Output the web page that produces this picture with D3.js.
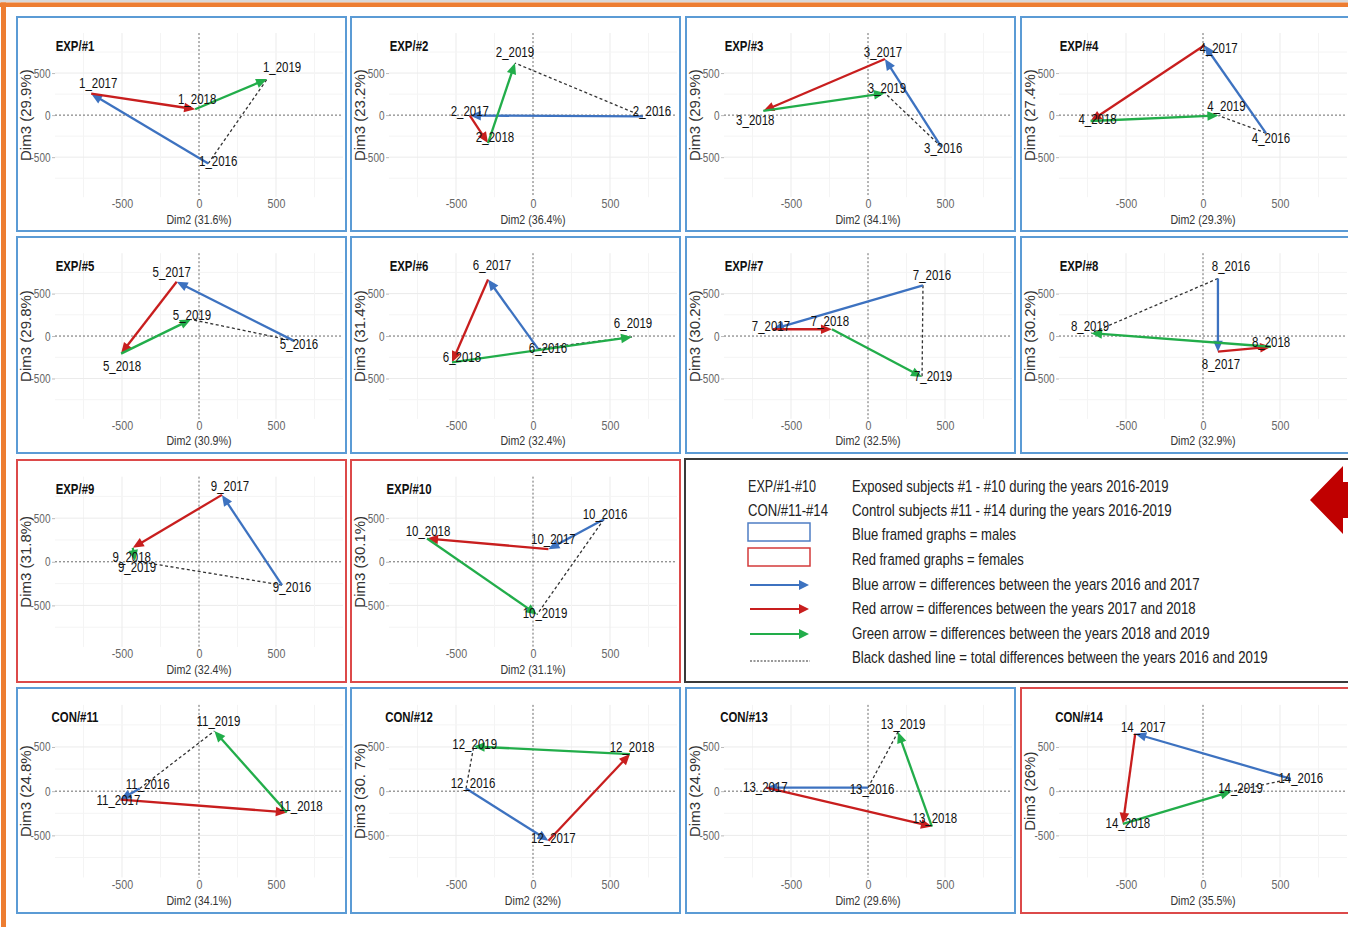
<!DOCTYPE html>
<html><head><meta charset="utf-8">
<script src="https://cdn.jsdelivr.net/npm/d3@7/dist/d3.min.js"></script>
<style>
html,body{margin:0;padding:0;background:#fff;overflow:hidden}
svg{display:block}
</style></head>
<body>
<script>
// ---------------- DATA ----------------
const subjects = ["EXP/#1","EXP/#2","EXP/#3","EXP/#4","EXP/#5","EXP/#6","EXP/#7","EXP/#8","EXP/#9","EXP/#10","CON/#11","CON/#12","CON/#13","CON/#14"];
const subjectNums = ["1","2","3","4","5","6","7","8","9","10","11","12","13","14"];
const sexes = ["m","m","m","m","m","m","m","m","f","f","m","m","m","f"];
const years = ["2016","2017","2018","2019"];
const dim2Pct = ["31.6%","36.4%","34.1%","29.3%","30.9%","32.4%","32.5%","32.9%","32.4%","31.1%","34.1%","32%","29.6%","35.5%"];
const dim3Pct = ["29.9%","23.2%","29.9%","27.4%","29.8%","31.4%","30.2%","30.2%","31.8%","30.1%","24.8%","30. 7%","24.9%","26%"];
// Dim2 coordinate per subject for 2016, 2017, 2018, 2019
const dim2Values = [
  [60,-700,-25,442],
  [714,-410,-292,-117],
  [475,110,-680,110],
  [409,10,-730,100],
  [617,-145,-506,-52],
  [32,-292,-526,643],
  [357,-617,-234,351],
  [97,97,442,-727],
  [539,149,-430,-415],
  [461,100,-688,26],
  [-385,-510,570,100],
  [-435,100,630,-385],
  [0,-660,415,195],
  [570,-440,-520,185]
];
// Dim3 coordinate per subject for 2016, 2017, 2018, 2019
const dim3Values = [
  [-575,255,70,429],
  [-15,-5,-333,619],
  [-375,667,50,262],
  [-214,830,-70,-5],
  [-57,640,-207,195],
  [-149,667,-310,-11],
  [598,80,80,-483],
  [678,-184,-126,34],
  [-267,767,160,10],
  [488,145,267,-605],
  [30,-95,-240,680],
  [30,-560,420,505],
  [40,40,-400,670],
  [140,650,-370,-5]
];
const xTicks = [-500,0,500];
const yTicks = [-500,0,500];
const gridValues = [-750,-500,-250,250,500,750];
const legendKeys = ["EXP/#1-#10","CON/#11-#14"];
const legendTexts = [
  "Exposed subjects #1 - #10 during the years 2016-2019",
  "Control subjects #11 - #14 during the years 2016-2019",
  "Blue framed graphs = males",
  "Red framed graphs = females",
  "Blue arrow = differences between the years 2016 and 2017",
  "Red arrow = differences between the years 2017 and 2018",
  "Green arrow = differences between the years 2018 and 2019",
  "Black dashed line = total differences between the years 2016 and 2019"
];

// ---------------- LAYOUT / STYLE ----------------
// label nudges in pixels (dx, dy of label centre relative to point), per subject, per year
const labelNudge = [
  [[10,-3],[7,-11],[2,-10],[15,-12]],
  [[9,-5],[0,-5],[7,-6],[0,-11]],
  [[2,1],[-2,-7],[-8,9],[2,-5]],
  [[5,5],[14,3],[7,-2],[8,-10]],
  [[5,3],[-5,-10],[1,12],[1,-5]],
  [[10,-1],[4,-14],[10,-5],[1,-14]],
  [[9,-10],[-2,-3],[-2,-8],[11,-1]],
  [[13,-13],[3,12],[0,-5],[-1,-7]],
  [[10,2],[8,-9],[-1,9],[2,6]],
  [[1,-5],[5,-10],[1,-8],[8,-2]],
  [[8,-5],[-2,0],[14,-6],[4,-10]],
  [[7,-6],[5,-3],[2,-7],[1,-3]],
  [[4,1],[-1,-1],[3,-9],[5,-8]],
  [[10,-1],[8,-7],[5,-1],[9,-4]]
];
const gridPos = [[0,0],[0,1],[0,2],[0,3],[1,0],[1,1],[1,2],[1,3],[2,0],[2,1],[3,0],[3,1],[3,2],[3,3]];
const colX = [17,351,686,1021];
const rowY = [17,237,460,688];
const rowH = [214,216,222,225];
const panelW = 329;
const REG = "'Liberation Sans',Arial,sans-serif";
const C_BLUE = "#3d72c0", C_RED = "#c81e1e", C_GREEN = "#22ad4a";
const FRAME_BLUE = "#5b9bd5", FRAME_RED = "#dc4a4a";
const arrowColors = [C_BLUE, C_RED, C_GREEN];

const W = 1348, H = 927;
const svg = d3.select("body").append("svg").attr("width",W).attr("height",H);

svg.append("rect").attr("width",W).attr("height",H).attr("fill","#fff");
svg.append("rect").attr("x",0).attr("y",0).attr("width",W).attr("height",2.5).attr("fill","#d9d9d9");
svg.append("rect").attr("x",0).attr("y",2.5).attr("width",W).attr("height",4.5).attr("fill","#ed7d31");
svg.append("rect").attr("x",1).attr("y",2.5).attr("width",5).attr("height",H).attr("fill","#ed7d31");

function drawArrow(g, x1, y1, x2, y2, color){
  const dx = x2-x1, dy = y2-y1, len = Math.hypot(dx,dy);
  if (len < 0.5) return;
  const ux = dx/len, uy = dy/len;
  const hl = Math.min(11, len*0.9), hw = 4.8;
  const bx = x2-ux*hl, by = y2-uy*hl;
  g.append("line").attr("x1",x1).attr("y1",y1).attr("x2",bx+ux*1).attr("y2",by+uy*1)
    .attr("stroke",color).attr("stroke-width",2.3).attr("stroke-linecap","butt");
  g.append("path").attr("d",`M${x2},${y2}L${bx-uy*hw},${by+ux*hw}L${bx+uy*hw},${by-ux*hw}Z`).attr("fill",color);
}

subjects.forEach((name, i) => {
  const [r,c] = gridPos[i];
  const h = rowH[r];
  const g = svg.append("g").attr("transform",`translate(${colX[c]},${rowY[r]})`);
  const top = 0.075*h, bot = 0.842*h;
  const x = d3.scaleLinear().domain([-935,935]).range([38,326]);
  const y = d3.scaleLinear().domain([-976,976]).range([bot, top]);

  gridValues.forEach(v => {
    const major = Math.abs(v) === 500;
    g.append("line").attr("x1",x(v)).attr("x2",x(v)).attr("y1",top).attr("y2",bot)
      .attr("stroke", major ? "#ebebeb" : "#f4f4f4").attr("stroke-width",1);
    g.append("line").attr("x1",x.range()[0]).attr("x2",x.range()[1]).attr("y1",y(v)).attr("y2",y(v))
      .attr("stroke", major ? "#ebebeb" : "#f4f4f4").attr("stroke-width",1);
  });
  g.append("line").attr("x1",x(0)).attr("x2",x(0)).attr("y1",top).attr("y2",bot)
    .attr("stroke","#6a6a6a").attr("stroke-width",1).attr("stroke-dasharray","2,2");
  g.append("line").attr("x1",x.range()[0]).attr("x2",x.range()[1]).attr("y1",y(0)).attr("y2",y(0))
    .attr("stroke","#6a6a6a").attr("stroke-width",1).attr("stroke-dasharray","2,2");

  const ya = g.append("g").attr("transform",`translate(${x.range()[0]},0)`)
    .call(d3.axisLeft(y).tickValues(yTicks).tickSize(3).tickPadding(1.5).tickFormat(d=>String(d)));
  ya.select(".domain").remove();
  ya.selectAll("line").attr("stroke","#bbb");
  ya.selectAll("text").attr("fill","#666").attr("class","narrow").attr("data-f","0.8").style("font-family",REG).style("font-size","12.5px");
  const xa = g.append("g").attr("transform",`translate(0,${bot})`)
    .call(d3.axisBottom(x).tickValues(xTicks).tickSize(0).tickPadding(2).tickFormat(d=>String(d)));
  xa.select(".domain").remove();
  xa.selectAll("text").attr("fill","#666").attr("class","narrow").attr("data-f","0.82").style("font-family",REG).style("font-size","13px");

  g.append("text").attr("class","narrow").attr("data-f","0.82").attr("x",(x.range()[0]+x.range()[1])/2).attr("y",0.965*h)
    .attr("text-anchor","middle").attr("fill","#333").style("font-family",REG).style("font-size","13px")
    .text(`Dim2 (${dim2Pct[i]})`);
  g.append("text").attr("transform",`translate(9,${(top+bot)/2}) rotate(-90)`)
    .attr("text-anchor","middle").attr("dy","0.36em").attr("fill","#333")
    .style("font-family",REG).style("font-size","15px")
    .text(`Dim3 (${dim3Pct[i]})`);

  g.append("text").attr("class","narrow").attr("data-f","0.76").attr("x",58).attr("y",33.5).attr("text-anchor","middle").attr("fill","#111")
    .style("font-family",REG).style("font-size","15px").style("font-weight","bold").text(name);

  const px = dim2Values[i].map(v => x(v));
  const py = dim3Values[i].map(v => y(v));
  g.append("line").attr("x1",px[0]).attr("y1",py[0]).attr("x2",px[3]).attr("y2",py[3])
    .attr("stroke","#333").attr("stroke-width",1.3).attr("stroke-dasharray","3,2.5");
  for (let k=0;k<3;k++) drawArrow(g, px[k], py[k], px[k+1], py[k+1], arrowColors[k]);
  years.forEach((yr,k) => {
    g.append("text").attr("class","narrow").attr("data-f","0.82").attr("x",px[k]+labelNudge[i][k][0]).attr("y",py[k]+labelNudge[i][k][1])
      .attr("dy","0.36em").attr("text-anchor","middle").attr("fill","#111")
      .style("font-family",REG).style("font-size","14px")
      .text(`${subjectNums[i]}_${yr}`);
  });

  g.append("rect").attr("x",0).attr("y",0).attr("width",panelW).attr("height",h)
    .attr("fill","none").attr("stroke", sexes[i]==="f" ? FRAME_RED : FRAME_BLUE).attr("stroke-width",2);
});

// narrow-font emulation: horizontally condense the regular face
svg.selectAll("text.narrow").each(function(){
  const w = this.getComputedTextLength();
  const f = +this.getAttribute("data-f");
  d3.select(this).attr("textLength", (w*f).toFixed(2)).attr("lengthAdjust","spacingAndGlyphs");
});

// ---------------- LEGEND ----------------
const lg = svg.append("g");
lg.append("rect").attr("x",685).attr("y",459).attr("width",700).attr("height",223)
  .attr("fill","none").attr("stroke","#3a3a3a").attr("stroke-width",2);
const rowYs = [486,510,534,559,584,608,633,657];
const textWidths = [317,320,164,172,348,344,358,416];
const keyWidths = [68,80];
function condensedText(x0, y0, str, target){
  const gg = lg.append("g");
  const t = gg.append("text").attr("x",0).attr("y",0).attr("dy","0.36em").attr("fill","#222")
    .style("font-family",REG).style("font-size","16px").text(str);
  const w = t.node().getComputedTextLength();
  gg.attr("transform",`translate(${x0},${y0}) scale(${(target/w).toFixed(4)},1)`);
}
legendKeys.forEach((t,k) => condensedText(748, rowYs[k], t, keyWidths[k]));
legendTexts.forEach((t,k) => condensedText(852, rowYs[k], t, textWidths[k]));
lg.append("rect").attr("x",748).attr("y",523).attr("width",62).attr("height",18)
  .attr("fill","none").attr("stroke","#4f7ec4").attr("stroke-width",1.5);
lg.append("rect").attr("x",748).attr("y",548).attr("width",62).attr("height",18)
  .attr("fill","none").attr("stroke","#d33a3a").attr("stroke-width",1.5);
[C_BLUE,C_RED,C_GREEN].forEach((col,k) => {
  const yy = rowYs[4+k]+1;
  lg.append("line").attr("x1",750).attr("x2",800).attr("y1",yy).attr("y2",yy).attr("stroke",col).attr("stroke-width",2);
  lg.append("path").attr("d",`M809,${yy}L799,${yy-5}L799,${yy+5}Z`).attr("fill",col);
});
lg.append("line").attr("x1",750).attr("x2",810).attr("y1",661).attr("y2",661)
  .attr("stroke","#333").attr("stroke-width",1.2).attr("stroke-dasharray","2,1.5");

svg.append("path").attr("d","M1310,500L1343,466L1343,482L1350,482L1350,518L1343,518L1343,534Z").attr("fill","#c00000");
</script>
</body></html>
